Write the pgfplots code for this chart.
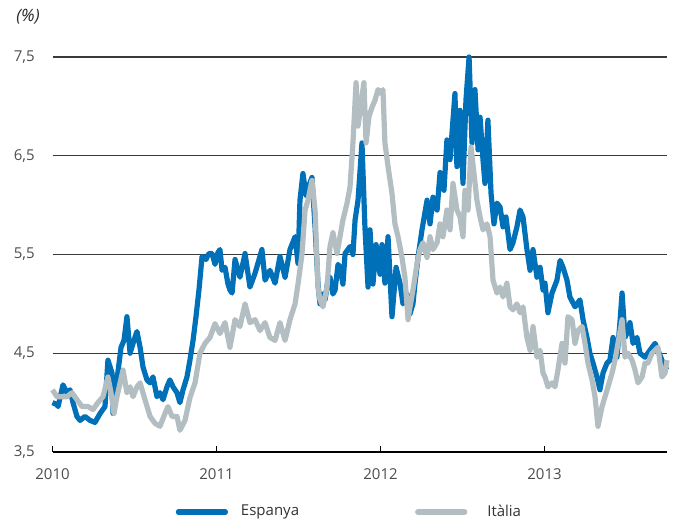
\documentclass[border=0pt]{standalone}
\usepackage{fontspec}
\setmainfont{Open Sans}
\usepackage{pgfplots}
\usepackage{pgfplotstable}
\pgfplotsset{compat=1.18}

\definecolor{espblue}{HTML}{0070B8}
\definecolor{itagrey}{HTML}{B3BEC2}
\definecolor{ticktext}{HTML}{4D4D4D}
\definecolor{gridc}{HTML}{3A3A3A}

% Espanya, bo a 10 anys (%)
\pgfplotstableread{
x y
2010.000 4.00
2010.027 3.98
2010.034 3.96
2010.064 4.18
2010.088 4.10
2010.107 4.13
2010.125 4.00
2010.149 3.86
2010.168 3.82
2010.198 3.86
2010.229 3.82
2010.259 3.80
2010.290 3.89
2010.320 3.96
2010.338 4.43
2010.363 4.30
2010.369 3.89
2010.393 4.23
2010.418 4.56
2010.436 4.63
2010.454 4.87
2010.473 4.50
2010.491 4.60
2010.515 4.72
2010.534 4.56
2010.552 4.36
2010.576 4.23
2010.595 4.20
2010.613 4.26
2010.637 4.06
2010.655 4.10
2010.674 4.03
2010.698 4.16
2010.716 4.23
2010.735 4.16
2010.759 4.10
2010.777 4.00
2010.796 4.13
2010.820 4.26
2010.838 4.43
2010.857 4.63
2010.875 4.87
2010.893 5.14
2010.912 5.48
2010.936 5.45
2010.954 5.51
2010.973 5.51
2010.991 5.40
2011.009 5.52
2011.021 5.55
2011.034 5.34
2011.052 5.37
2011.070 5.20
2011.082 5.14
2011.095 5.11
2011.113 5.45
2011.143 5.27
2011.174 5.51
2011.204 5.17
2011.235 5.31
2011.277 5.55
2011.296 5.24
2011.326 5.34
2011.357 5.21
2011.387 5.48
2011.418 5.27
2011.448 5.55
2011.479 5.68
2011.497 5.41
2011.509 6.05
2011.527 6.32
2011.546 6.10
2011.564 6.20
2011.582 6.28
2011.601 5.78
2011.619 5.20
2011.631 5.00
2011.649 5.10
2011.662 5.04
2011.680 5.25
2011.692 5.27
2011.710 5.10
2011.723 5.14
2011.741 5.40
2011.753 5.37
2011.771 5.20
2011.784 5.51
2011.814 5.58
2011.832 5.50
2011.845 5.85
2011.863 6.05
2011.887 6.63
2011.905 5.78
2011.924 5.17
2011.936 5.75
2011.954 5.20
2011.973 5.60
2011.997 5.30
2012.009 5.60
2012.027 5.21
2012.046 5.68
2012.070 4.87
2012.095 5.37
2012.119 5.21
2012.137 5.00
2012.162 5.10
2012.180 4.90
2012.198 5.00
2012.210 5.20
2012.229 5.47
2012.253 5.75
2012.284 6.05
2012.302 5.81
2012.320 6.08
2012.345 5.95
2012.363 6.33
2012.387 6.15
2012.405 6.66
2012.424 6.46
2012.454 7.13
2012.466 6.39
2012.485 6.96
2012.503 6.22
2012.521 7.06
2012.540 7.50
2012.558 6.63
2012.576 7.17
2012.595 6.56
2012.607 6.89
2012.625 6.46
2012.637 6.22
2012.655 6.86
2012.674 6.12
2012.692 5.81
2012.710 6.02
2012.729 5.98
2012.747 5.78
2012.765 5.88
2012.790 5.55
2012.808 5.62
2012.832 5.78
2012.851 5.95
2012.869 5.88
2012.893 5.55
2012.912 5.34
2012.930 5.55
2012.954 5.27
2012.973 5.37
2012.991 5.14
2013.003 5.21
2013.021 4.91
2013.046 5.11
2013.076 5.24
2013.095 5.44
2013.113 5.37
2013.137 5.24
2013.155 5.07
2013.186 4.97
2013.216 5.04
2013.235 4.84
2013.259 4.66
2013.277 4.50
2013.296 4.40
2013.320 4.26
2013.338 4.13
2013.357 4.30
2013.381 4.40
2013.399 4.43
2013.418 4.66
2013.442 4.46
2013.460 4.81
2013.473 5.11
2013.491 4.66
2013.509 4.73
2013.521 4.81
2013.540 4.60
2013.564 4.66
2013.582 4.50
2013.613 4.46
2013.643 4.53
2013.674 4.60
2013.692 4.53
2013.716 4.43
2013.735 4.36
2013.747 4.33
}\espanya

% Italia, bo a 10 anys (%)
\pgfplotstableread{
x y
2010.000 4.13
2010.027 4.06
2010.058 4.06
2010.088 4.06
2010.119 4.10
2010.149 4.03
2010.180 3.96
2010.216 3.96
2010.247 3.93
2010.277 4.00
2010.308 4.06
2010.338 4.26
2010.357 4.10
2010.375 3.89
2010.393 4.06
2010.412 4.20
2010.430 4.33
2010.454 4.10
2010.473 4.16
2010.491 4.06
2010.515 4.16
2010.534 4.20
2010.564 4.03
2010.595 3.86
2010.625 3.79
2010.655 3.76
2010.686 3.89
2010.704 3.96
2010.729 3.86
2010.759 3.86
2010.777 3.72
2010.808 3.82
2010.838 4.05
2010.869 4.20
2010.899 4.50
2010.930 4.60
2010.960 4.66
2010.991 4.80
2011.021 4.70
2011.052 4.81
2011.082 4.56
2011.113 4.84
2011.143 4.77
2011.174 5.00
2011.204 4.81
2011.235 4.84
2011.265 4.73
2011.296 4.81
2011.326 4.66
2011.357 4.63
2011.387 4.81
2011.418 4.63
2011.448 4.84
2011.479 5.00
2011.497 5.20
2011.521 5.50
2011.540 5.95
2011.558 6.05
2011.582 6.25
2011.601 5.95
2011.619 5.17
2011.631 5.04
2011.649 4.97
2011.674 5.17
2011.692 5.58
2011.710 5.72
2011.735 5.51
2011.753 5.68
2011.771 5.85
2011.796 6.02
2011.814 6.18
2011.832 6.63
2011.851 7.24
2011.863 6.80
2011.881 7.03
2011.899 7.24
2011.912 6.63
2011.930 6.90
2011.948 6.99
2011.966 7.06
2011.985 7.17
2012.003 7.13
2012.015 7.17
2012.027 6.63
2012.046 6.39
2012.070 6.12
2012.088 5.81
2012.107 5.68
2012.131 5.47
2012.149 5.27
2012.168 4.84
2012.180 4.97
2012.198 5.14
2012.223 5.41
2012.241 5.55
2012.259 5.62
2012.284 5.47
2012.302 5.68
2012.320 5.55
2012.345 5.62
2012.363 5.81
2012.381 5.68
2012.405 5.95
2012.424 5.75
2012.442 6.22
2012.466 5.95
2012.485 5.88
2012.503 5.68
2012.515 6.15
2012.534 5.95
2012.552 6.59
2012.570 6.32
2012.588 6.05
2012.607 5.88
2012.625 5.75
2012.649 5.81
2012.668 5.68
2012.686 5.24
2012.710 5.11
2012.729 5.17
2012.747 5.07
2012.771 5.21
2012.790 4.97
2012.808 4.94
2012.832 5.00
2012.851 4.91
2012.869 4.97
2012.893 4.66
2012.912 4.53
2012.930 4.77
2012.954 4.46
2012.973 4.53
2012.991 4.30
2013.003 4.26
2013.021 4.16
2013.046 4.20
2013.064 4.16
2013.082 4.33
2013.107 4.60
2013.125 4.40
2013.143 4.87
2013.168 4.84
2013.186 4.60
2013.204 4.73
2013.229 4.77
2013.247 4.60
2013.265 4.40
2013.290 4.23
2013.308 4.06
2013.326 3.76
2013.351 3.96
2013.369 4.06
2013.387 4.16
2013.412 4.30
2013.430 4.43
2013.448 4.60
2013.473 4.84
2013.491 4.46
2013.509 4.50
2013.534 4.43
2013.552 4.33
2013.570 4.20
2013.595 4.26
2013.613 4.40
2013.631 4.40
2013.655 4.50
2013.674 4.53
2013.692 4.56
2013.716 4.26
2013.735 4.30
2013.747 4.43
}\italia

\begin{document}
\begin{tikzpicture}
\path[use as bounding box] (-26.25pt,-35.5pt) rectangle (313.75pt,226pt);
\begin{axis}[
    scale only axis,
    width=307.25pt, height=197.5pt,
    xmin=2010, xmax=2013.747,
    ymin=3.5, ymax=7.5,
    clip=false,
    separate axis lines,
    axis x line*=bottom,
    axis y line*=left,
    x axis line style={black, line width=0.7pt},
    y axis line style={draw=none},
    xtick={2010,2011,2012,2013},
    xticklabels={2010,2011,2012,2013},
    xtick align=inside,
    major tick length=3pt,
    xtick style={black, line width=0.7pt},
    ytick={3.5,4.5,5.5,6.5,7.5},
    ytick style={draw=none},
    yticklabel={\pgfmathprintnumber[fixed,fixed zerofill,precision=1,use comma]{\tick}},
    /pgf/number format/assume math mode=true,
    ymajorgrids=true,
    grid style={gridc, line width=0.6pt},
    tick label style={font=\fontsize{7.5}{9}\selectfont, text=ticktext, inner sep=0pt},
    yticklabel style={anchor=east, xshift=-8.75pt},
    xticklabel style={anchor=north, yshift=-8pt},
    legend columns=2,
    legend style={at={(rel axis cs:0.200,-0.152)}, anchor=west, draw=none, fill=none,
        inner sep=0pt, font=\fontsize{7.5}{9}\selectfont, text=black!80,
        /tikz/every even column/.append style={column sep=56pt}},
    legend cell align=left,
    legend image code/.code={\draw[#1, line cap=round] (1.25pt,0pt) -- (24.75pt,0pt);},
    every axis plot/.append style={line width=2.6pt, line join=round},
]
\addplot[espblue] table[x=x, y=y] {\espanya};
\addlegendentry{\hspace{4.5pt}Espanya}
\addplot[itagrey] table[x=x, y=y] {\italia};
\addlegendentry{\hspace{8pt}Itàlia}
\end{axis}
\node[font=\itshape\fontsize{8.5}{10}\selectfont, text=black!85] at (-12.25pt,217.5pt) {(\%)};
\end{tikzpicture}
\end{document}
